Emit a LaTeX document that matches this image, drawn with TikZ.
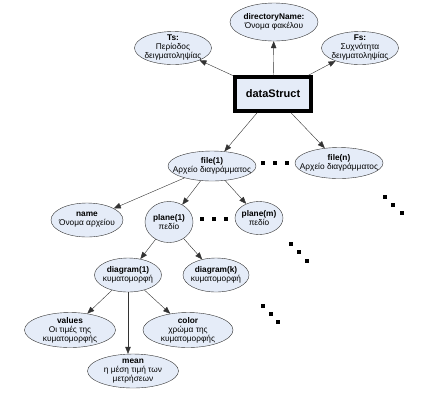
\documentclass[tikz,border=0pt]{standalone}
\usepackage{fontspec}
\setmainfont{Liberation Sans}
\usetikzlibrary{shapes.geometric, arrows.meta}
\definecolor{fieldfill}{RGB}{229,236,248}

\begin{document}
\begin{tikzpicture}[
    x=1pt, y=-1pt,
    font=\fontsize{8.3}{9}\selectfont,
    field/.style={
        ellipse, draw=black!80, thin,
        fill=fieldfill, inner xsep=-12pt, inner ysep=-4pt,
        align=center
    },
    rootbox/.style={
        rectangle, draw=black, line width=3.5pt,
        fill=fieldfill,
        minimum width=76pt, minimum height=34pt,
        font=\fontsize{11}{12}\selectfont\bfseries
    },
    dot/.style={rectangle, fill=black, inner sep=0pt, minimum size=3.4pt},
    arr/.style={draw=black!80, thin, -{Triangle[length=7pt, width=5.5pt]}}
]
\useasboundingbox (0,0) rectangle (435,416);

% 1. TOP SECTION: dataStruct & its attributes
\node[rootbox] (DS) at (273,94) {dataStruct};
\node[field, minimum width=77pt, minimum height=33pt] (Ts) at (173,48) {\textbf{Ts:}\\Περίοδος\\δειγματοληψίας};
\node[field, minimum width=88pt, minimum height=38pt] (Dir) at (274,22) {\textbf{directoryName:}\\Όνομα φακέλου};
\node[field, minimum width=77pt, minimum height=33pt] (Fs) at (360,48) {\textbf{Fs:}\\Συχνότητα\\δειγματοληψίας};
\draw[arr] (DS) -- (Ts); \draw[arr] (DS) -- (Dir); \draw[arr] (DS) -- (Fs);

% 2. FILES
\node[field, minimum width=88pt, minimum height=30pt] (File1) at (212,166) {\textbf{file(1)}\\Αρχείο διαγράμματος};
\node[field, minimum width=88pt, minimum height=31pt] (FileN) at (339,163) {\textbf{file(n)}\\Αρχείο διαγράμματος};
\draw[arr] (DS) -- (File1); \draw[arr] (DS) -- (FileN);

% 3. PLANES
\node[field, minimum width=72pt, minimum height=34pt] (Name) at (87,220) {\textbf{name}\\Όνομα αρχείου};
\node[field, minimum width=48pt, minimum height=41pt] (Plane1) at (169,222) {\textbf{plane(1)}\\πεδίο};
\node[field, minimum width=48pt, minimum height=33pt] (PlaneM) at (259,218) {\textbf{plane(m)}\\πεδίο};
\draw[arr] (File1) -- (Name); \draw[arr] (File1) -- (Plane1); \draw[arr] (File1) -- (PlaneM);

% 4. DIAGRAMS
\node[field, minimum width=67pt, minimum height=34pt] (Diag1) at (128,275) {\textbf{diagram(1)}\\κυματομορφή};
\node[field, minimum width=66pt, minimum height=34pt] (DiagK) at (216,275) {\textbf{diagram(k)}\\κυματομορφή};
\draw[arr] (Plane1) -- (Diag1); \draw[arr] (Plane1) -- (DiagK);

% 5. BOTTOM SECTION: diagram attributes
\node[field, minimum width=91pt, minimum height=35pt] (Values) at (70,330) {\textbf{values}\\Οι τιμές της\\κυματομορφής};
\node[field, minimum width=90pt, minimum height=35pt] (Color) at (188,330) {\textbf{color}\\χρώμα της\\κυματομορφής};
\node[field, minimum width=91pt, minimum height=34pt] (Mean) at (133,371) {\textbf{mean}\\η μέση τιμή των\\μετρήσεων};
\draw[arr] (Diag1) -- (Values); \draw[arr] (Diag1.south) -- (Diag1.south |- Mean.north); \draw[arr] (Diag1) -- (Color);

% Continuation dots
\foreach \x/\y [count=\i] in {263/163, 275/163, 287/163, 202/219, 214/219, 226/219,
    385/197, 393/205, 402/213, 291/244, 299/252, 307/261, 263/306, 271/314, 278/322}
    \node[dot] (dot\i) at (\x,\y) {};

\end{tikzpicture}
\end{document}
